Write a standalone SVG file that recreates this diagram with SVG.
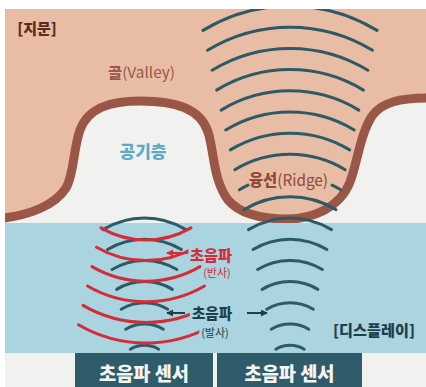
<svg xmlns="http://www.w3.org/2000/svg" width="426" height="387" viewBox="0 0 426 387">
  <defs>
    <style>
      .kr{font-family:"Noto Sans CJK KR","Noto Sans",sans-serif}
      .b{font-weight:900}
      .r{font-weight:400}
      .wave{fill:none;stroke:#2c5a66;stroke-width:3;stroke-linecap:round}
      .echo{fill:none;stroke:#d42d38;stroke-width:3;stroke-linecap:round}
      .halo-blue{stroke:#a9d4e0;stroke-width:6;stroke-linejoin:round;paint-order:stroke}
      .sensor-box{fill:#2f5c6b}
      .sensor-text{fill:#f4f4f2;font-size:19px;font-weight:900}
      .arrow-red{fill:none;stroke:#d42d38;stroke-width:2}
      .arrow-dark{fill:none;stroke:#1f3f4c;stroke-width:2}
    </style>
    <clipPath id="sheet"><rect x="5" y="9" width="421" height="378"/></clipPath>
    <marker id="headRed" viewBox="0 0 8 8" refX="7" refY="4" markerWidth="7" markerHeight="7" markerUnits="userSpaceOnUse" orient="auto">
      <path d="M0,0 L8,4 L0,8 z" fill="#d42d38"/>
    </marker>
    <marker id="headDark" viewBox="0 0 8 8" refX="7" refY="4" markerWidth="7" markerHeight="7" markerUnits="userSpaceOnUse" orient="auto">
      <path d="M0,0 L8,4 L0,8 z" fill="#1f3f4c"/>
    </marker>
  </defs>

  <rect width="426" height="387" fill="#ffffff"/>

  <g clip-path="url(#sheet)">
    <!-- paper -->
    <rect x="5" y="9" width="421" height="378" fill="#f1f1ef"/>

    <!-- skin with valley / ridge profile -->
    <g id="fingerprint">
      <path fill="#e8bca5" d="M-5,219 C30,216 55,205 66,188 C74,175 73,150 80,130 C88,108 110,101 140,101 C175,101 200,108 208,132 C214,150 213,180 228,200 C240,214 262,219 287,219 C312,219 340,208 350,182 C358,160 360,135 372,116 C382,102 400,98 430,98 L430,-5 L-5,-5 Z"/>
      <path fill="none" stroke="#9a5747" stroke-width="9" d="M-5,219 C30,216 55,205 66,188 C74,175 73,150 80,130 C88,108 110,101 140,101 C175,101 200,108 208,132 C214,150 213,180 228,200 C240,214 262,219 287,219 C312,219 340,208 350,182 C358,160 360,135 372,116 C382,102 400,98 430,98"/>
      <text class="kr b" x="37" y="33.5" font-size="15" fill="#5b2b22" text-anchor="middle">[지문]</text>
    </g>

    <g id="valley">
      <text class="kr" x="141.5" y="78" font-size="15" fill="#9b5848" text-anchor="middle" textLength="67" lengthAdjust="spacingAndGlyphs"><tspan class="b">골</tspan><tspan class="r">(Valley)</tspan></text>
    </g>

    <g id="air-layer">
      <text class="kr b" x="143" y="158" font-size="17" fill="#5ea9c9" text-anchor="middle">공기층</text>
    </g>

    <!-- display panel -->
    <g id="display">
      <rect x="5" y="223" width="421" height="130" fill="#a9d4e0"/>
      <text class="kr b" x="374" y="336" font-size="15" fill="#1f3f4c" text-anchor="middle" textLength="82" lengthAdjust="spacingAndGlyphs">[디스플레이]</text>
    </g>

    <!-- emitted waves under the ridge -->
    <g id="waves-ridge">
      <path class="wave" d="M203,30.4 A167.6,167.6 0 0 1 377,30.4"/>
      <path class="wave" d="M207.55,50.3 A158.8,158.8 0 0 1 372.45,50.3"/>
      <path class="wave" d="M212.1,70.2 A150,150 0 0 1 367.9,70.2"/>
      <path class="wave" d="M216.65,90.1 A141.3,141.3 0 0 1 363.35,90.1"/>
      <path class="wave" d="M221.2,110.1 A132.5,132.5 0 0 1 358.8,110.1"/>
      <path class="wave" d="M225.75,130 A123.7,123.7 0 0 1 354.25,130"/>
      <path class="wave" d="M230.3,149.9 A115,115 0 0 1 349.7,149.9"/>
      <path class="wave" d="M234.85,169.8 A106.2,106.2 0 0 1 345.15,169.8"/>
      <path class="wave" stroke-dasharray="9.8 86.8 9.8" d="M239.4,189.8 A97.5,97.5 0 0 1 340.6,189.8"/>
      <path class="wave" d="M243.95,209.7 A88.7,88.7 0 0 1 336.05,209.7"/>
      <path class="wave" d="M248.5,229.6 A79.9,79.9 0 0 1 331.5,229.6"/>
      <path class="wave" d="M253.05,249.5 A71.2,71.2 0 0 1 326.95,249.5"/>
      <path class="wave" d="M257.6,269.5 A62.4,62.4 0 0 1 322.4,269.5"/>
      <path class="wave" d="M262.15,289.4 A53.6,53.6 0 0 1 317.85,289.4"/>
      <path class="wave" d="M266.7,309.3 A44.9,44.9 0 0 1 313.3,309.3"/>
      <path class="wave" d="M271.25,329.3 A36.1,36.1 0 0 1 308.75,329.3"/>
      <path class="wave" d="M275.8,349.2 A27.3,27.3 0 0 1 304.2,349.2"/>
    </g>

    <g id="ridge">
      <text class="kr" x="288.5" y="186" font-size="16" fill="#8e4a3a" text-anchor="middle" textLength="79" lengthAdjust="spacingAndGlyphs"><tspan class="b">융선</tspan><tspan class="r">(Ridge)</tspan></text>
    </g>

    <!-- emitted waves under the valley -->
    <g id="waves-valley">
      <path class="wave" d="M103,229.6 A79.9,79.9 0 0 1 186,229.6"/>
      <path class="wave" d="M107.55,249.5 A71.2,71.2 0 0 1 181.45,249.5"/>
      <path class="wave" d="M112.1,269.5 A62.4,62.4 0 0 1 176.9,269.5"/>
      <path class="wave" d="M116.65,289.4 A53.6,53.6 0 0 1 172.35,289.4"/>
      <path class="wave" d="M121.2,309.3 A44.9,44.9 0 0 1 167.8,309.3"/>
      <path class="wave" d="M125.75,329.3 A36.1,36.1 0 0 1 163.25,329.3"/>
      <path class="wave" d="M130.3,349.2 A27.3,27.3 0 0 1 158.7,349.2"/>
    </g>

    <!-- reflected waves from the air layer -->
    <g id="waves-reflected">
      <path class="echo" d="M101,227.85 A89.4,89.4 0 0 0 191,227.85"/>
      <path class="echo" d="M96.5,247.2 A98.4,98.4 0 0 0 195.5,247.2"/>
      <path class="echo" d="M92,266.6 A107.3,107.3 0 0 0 200,266.6"/>
      <path class="echo" d="M87.5,286 A116.2,116.2 0 0 0 204.5,286"/>
      <path class="echo" d="M83,305.4 A125.2,125.2 0 0 0 209,305.4"/>
      <path class="echo" d="M78.5,324.8 A134.1,134.1 0 0 0 213.5,324.8"/>
    </g>

    <!-- pointers to the waves -->
    <g id="connectors">
      <path class="arrow-red" d="M189,253 L167,253" marker-end="url(#headRed)"/>
      <path class="arrow-dark" d="M185,313 L167,313" marker-end="url(#headDark)"/>
      <path class="arrow-dark" d="M247,313 L267,313" marker-end="url(#headDark)"/>
    </g>

    <g id="label-reflected">
      <text class="kr b halo-blue" x="211" y="261" font-size="15" fill="#d42d38" text-anchor="middle" textLength="42" lengthAdjust="spacingAndGlyphs">초음파</text>
      <text class="kr r halo-blue" x="217" y="277" font-size="11" fill="#d42d38" text-anchor="middle">(반사)</text>
    </g>

    <g id="label-emitted">
      <text class="kr b halo-blue" x="212" y="318.5" font-size="15" fill="#1f3f4c" text-anchor="middle" textLength="40" lengthAdjust="spacingAndGlyphs">초음파</text>
      <text class="kr r halo-blue" x="215" y="337" font-size="11" fill="#1f3f4c" text-anchor="middle">(발사)</text>
    </g>

    <g id="sensor-left">
      <rect class="sensor-box" x="75" y="353" width="138" height="40"/>
      <text class="kr sensor-text" x="144" y="381" text-anchor="middle" textLength="90" lengthAdjust="spacingAndGlyphs">초음파 센서</text>
    </g>

    <g id="sensor-right">
      <rect class="sensor-box" x="217" y="353" width="145" height="40"/>
      <text class="kr sensor-text" x="289.5" y="381" text-anchor="middle" textLength="90" lengthAdjust="spacingAndGlyphs">초음파 센서</text>
    </g>
  </g>
</svg>
